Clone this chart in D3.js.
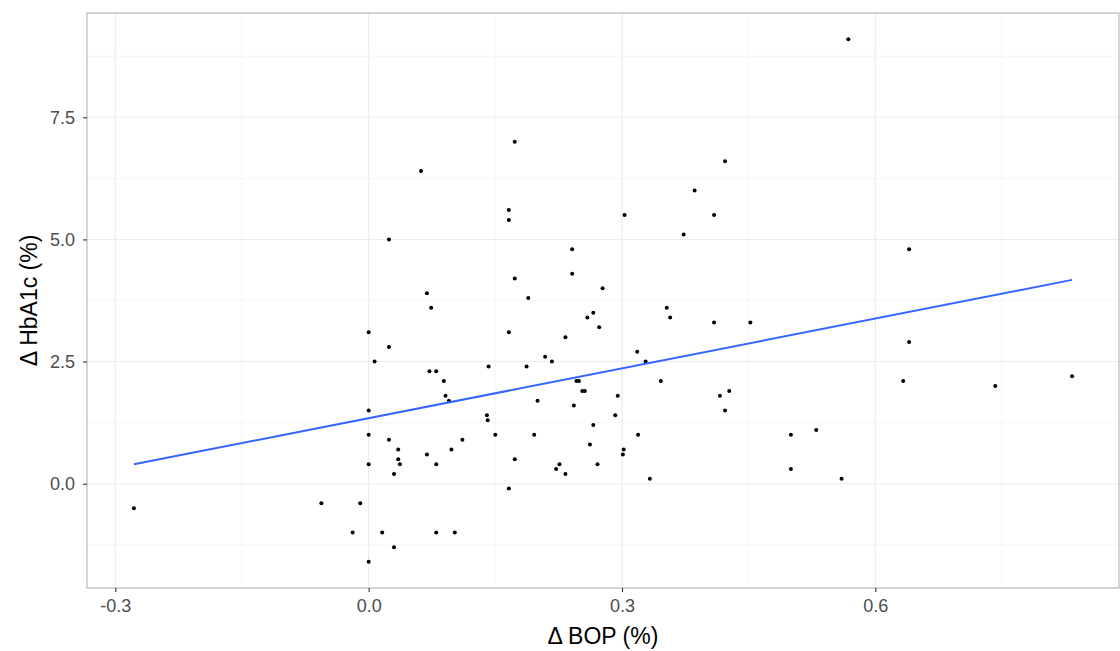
<!DOCTYPE html>
<html lang="en">
<head>
<meta charset="UTF-8">
<title>HbA1c vs BOP</title>
<style>
  body { margin: 0; background: #fff; }
  svg { display: block; font-family: "Liberation Sans", Arial, sans-serif; }
</style>
</head>
<body>
<script src="https://d3js.org/d3.v7.min.js"></script>
<script>

  // change in BOP (%) and change in HbA1c (%), one entry per patient
  var bop = [
    0.062, 0.024, 0.069, 0.074, 0.000, 0.024, 0.007, 0.072, 0.080, 0.000,
    0.000, 0.024, 0.035, 0.069, 0.035, 0.000, 0.037, 0.080, 0.030, -0.278,
    -0.056, -0.010, -0.019, 0.016, 0.080, 0.030, 0.000, 0.173, 0.166, 0.166,
    0.173, 0.189, 0.166, 0.089, 0.091, 0.095, 0.142, 0.187, 0.209, 0.200,
    0.140, 0.141, 0.150, 0.196, 0.098, 0.111, 0.173, 0.166, 0.102, 0.422,
    0.386, 0.303, 0.409, 0.373, 0.241, 0.241, 0.277, 0.259, 0.266, 0.273,
    0.233, 0.217, 0.353, 0.357, 0.409, 0.452, 0.318, 0.328, 0.246, 0.249,
    0.253, 0.256, 0.346, 0.295, 0.416, 0.427, 0.422, 0.243, 0.292, 0.266,
    0.319, 0.262, 0.302, 0.301, 0.226, 0.271, 0.222, 0.233, 0.333, 0.568,
    0.640, 0.640, 0.633, 0.742, 0.833, 0.500, 0.530, 0.500, 0.560
  ];
  var hba1c = [
    6.4, 5.0, 3.9, 3.6, 3.1, 2.8, 2.5, 2.3, 2.3, 1.5,
    1.0, 0.9, 0.7, 0.6, 0.5, 0.4, 0.4, 0.4, 0.2, -0.5,
    -0.4, -0.4, -1.0, -1.0, -1.0, -1.3, -1.6, 7.0, 5.6, 5.4,
    4.2, 3.8, 3.1, 2.1, 1.8, 1.7, 2.4, 2.4, 2.6, 1.7,
    1.4, 1.3, 1.0, 1.0, 0.7, 0.9, 0.5, -0.1, -1.0, 6.6,
    6.0, 5.5, 5.5, 5.1, 4.8, 4.3, 4.0, 3.4, 3.5, 3.2,
    3.0, 2.5, 3.6, 3.4, 3.3, 3.3, 2.7, 2.5, 2.1, 2.1,
    1.9, 1.9, 2.1, 1.8, 1.8, 1.9, 1.5, 1.6, 1.4, 1.2,
    1.0, 0.8, 0.7, 0.6, 0.4, 0.4, 0.3, 0.2, 0.1, 9.1,
    4.8, 2.9, 2.1, 2.0, 2.2, 1.0, 1.1, 0.3, 0.1
  ];
  var xTicks = [-0.3, 0.0, 0.3, 0.6];
  var yTicks = [0.0, 2.5, 5.0, 7.5];

  var data = bop.map(function(d, i) { return {x: d, y: hba1c[i]}; });

  var W = 1120, H = 651;
  var margin = {top: 13, right: 1, bottom: 63, left: 87};
  var width = W - margin.left - margin.right,
      height = H - margin.top - margin.bottom;

  // ggplot-style 5% expansion of the data range
  function expand(ext) {
    var pad = (ext[1] - ext[0]) * 0.05;
    return [ext[0] - pad, ext[1] + pad];
  }

  var x = d3.scaleLinear()
      .domain(expand(d3.extent(bop)))
      .range([0, width]);
  var y = d3.scaleLinear()
      .domain(expand(d3.extent(hba1c)))
      .range([height, 0]);

  var svg = d3.select("body").append("svg")
      .attr("width", W)
      .attr("height", H);

  var g = svg.append("g")
      .attr("transform", "translate(" + margin.left + "," + margin.top + ")");

  // minor grid lines halfway between the major ones
  function minors(ticks, scale) {
    var step = ticks[1] - ticks[0];
    var out = [];
    var dom = scale.domain();
    for (var v = ticks[0] - step / 2; v < dom[1]; v += step) {
      if (v > dom[0]) out.push(v);
    }
    return out;
  }

  g.selectAll(".xminor").data(minors(xTicks, x)).enter().append("line")
      .attr("x1", function(d) { return x(d); }).attr("x2", function(d) { return x(d); })
      .attr("y1", 0).attr("y2", height)
      .attr("stroke", "#f0f0f0").attr("stroke-width", 0.6);
  g.selectAll(".yminor").data(minors(yTicks, y)).enter().append("line")
      .attr("y1", function(d) { return y(d); }).attr("y2", function(d) { return y(d); })
      .attr("x1", 0).attr("x2", width)
      .attr("stroke", "#f0f0f0").attr("stroke-width", 0.6);
  g.selectAll(".xmajor").data(xTicks).enter().append("line")
      .attr("x1", function(d) { return x(d); }).attr("x2", function(d) { return x(d); })
      .attr("y1", 0).attr("y2", height)
      .attr("stroke", "#ebebeb").attr("stroke-width", 1.1);
  g.selectAll(".ymajor").data(yTicks).enter().append("line")
      .attr("y1", function(d) { return y(d); }).attr("y2", function(d) { return y(d); })
      .attr("x1", 0).attr("x2", width)
      .attr("stroke", "#ebebeb").attr("stroke-width", 1.1);

  // least squares fit, as geom_smooth(method = "lm")
  var mx = d3.mean(bop), my = d3.mean(hba1c);
  var sxy = d3.sum(data, function(d) { return (d.x - mx) * (d.y - my); });
  var sxx = d3.sum(data, function(d) { return (d.x - mx) * (d.x - mx); });
  var slope = sxy / sxx, icpt = my - slope * mx;
  var ext = d3.extent(bop);

  g.selectAll(".pt").data(data).enter().append("circle")
      .attr("class", "pt")
      .attr("cx", function(d) { return x(d.x); })
      .attr("cy", function(d) { return y(d.y); })
      .attr("r", 2)
      .attr("fill", "#000");

  g.append("line")
      .attr("x1", x(ext[0])).attr("y1", y(icpt + slope * ext[0]))
      .attr("x2", x(ext[1])).attr("y2", y(icpt + slope * ext[1]))
      .attr("stroke", "#3366FF").attr("stroke-width", 2);

  // panel border
  g.append("rect")
      .attr("x", 0).attr("y", 0)
      .attr("width", width).attr("height", height)
      .attr("fill", "none").attr("stroke", "#b3b3b3").attr("stroke-width", 1.1);

  // axes
  var xAxis = g.append("g")
      .attr("transform", "translate(0," + height + ")")
      .call(d3.axisBottom(x).tickValues(xTicks).tickFormat(d3.format(".1f")).tickSize(4).tickPadding(7));
  var yAxis = g.append("g")
      .call(d3.axisLeft(y).tickValues(yTicks).tickFormat(d3.format(".1f")).tickSize(4).tickPadding(8));

  [xAxis, yAxis].forEach(function(a) {
    a.select(".domain").remove();
    a.selectAll(".tick line").attr("stroke", "#333").attr("stroke-width", 1.1);
    a.selectAll(".tick text")
        .attr("fill", "#4d4d4d")
        .attr("font-size", 18)
        .attr("font-family", "'Liberation Sans', Arial, sans-serif");
  });
  xAxis.selectAll(".tick text").text(function(d) { return d3.format(".1f")(d).replace("−", "-"); });

  // axis titles
  svg.append("text")
      .attr("x", margin.left + width / 2)
      .attr("y", 644)
      .attr("text-anchor", "middle")
      .attr("font-size", 23)
      .attr("fill", "#000")
      .text("Δ BOP (%)");

  svg.append("text")
      .attr("transform", "translate(37," + (margin.top + height / 2) + ") rotate(-90)")
      .attr("text-anchor", "middle")
      .attr("font-size", 23)
      .attr("fill", "#000")
      .text("Δ HbA1c (%)");

</script>
</body>
</html>
